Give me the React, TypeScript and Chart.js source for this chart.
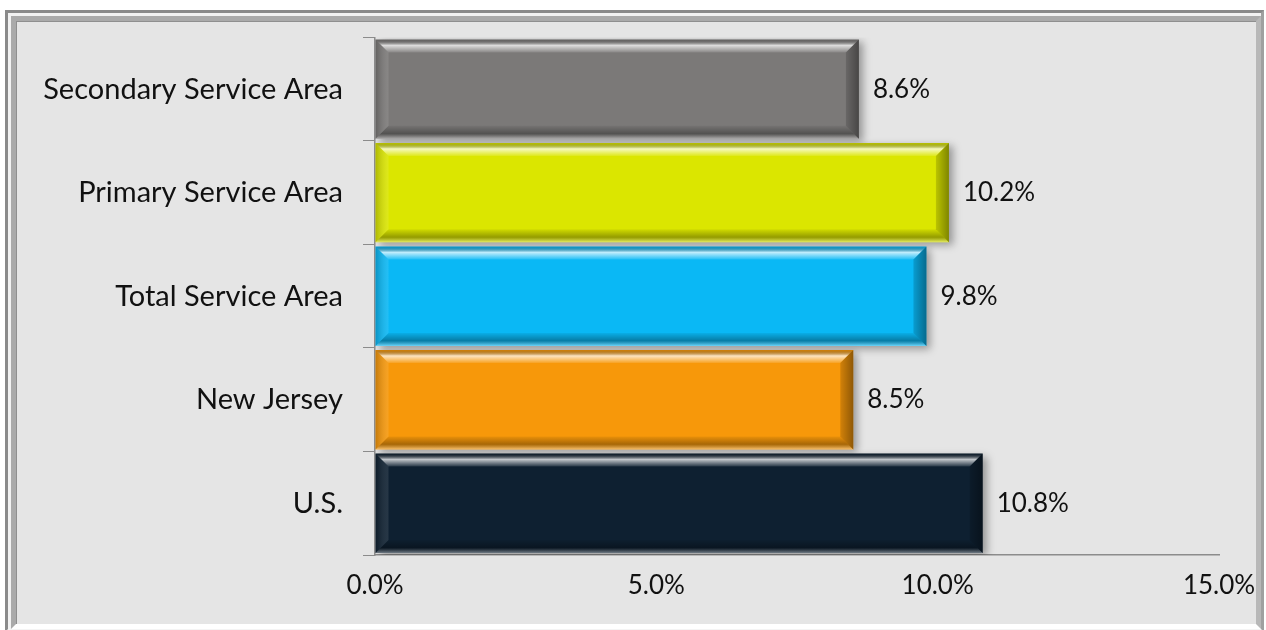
import React, { useEffect, useRef } from "react";
import { Chart, registerables } from "chart.js";

Chart.register(...registerables);

const categories = [
  "Secondary Service Area",
  "Primary Service Area",
  "Total Service Area",
  "New Jersey",
  "U.S.",
];
const values = [8.6, 10.2, 9.8, 8.5, 10.8];
const barColors = ["#7b7978", "#dbe600", "#0ab8f5", "#f7980a", "#0e2031"];
const xTicks = [0, 5, 10, 15];

const FONT_FAMILY = "Lato, 'Open Sans', sans-serif";

const bevelPlugin = {
  id: "bevelAndLabels",
  beforeDatasetsDraw(chart: any) {
    const ctx = chart.ctx;
    ctx.save();
    ctx.shadowColor = "rgba(0,0,0,0.35)";
    ctx.shadowBlur = 8;
    ctx.shadowOffsetX = 4;
    ctx.shadowOffsetY = 3;
  },
  afterDatasetsDraw(chart: any) {
    const ctx = chart.ctx;
    ctx.restore();
    const meta = chart.getDatasetMeta(0);
    meta.data.forEach((el: any, i: number) => {
      const l = el.base;
      const r = el.x;
      const t = el.y - el.height / 2;
      const b = el.y + el.height / 2;
      const bv = 13;
      ctx.save();
      // top bevel
      let g = ctx.createLinearGradient(0, t, 0, t + bv);
      g.addColorStop(0, "rgba(0,0,0,0.15)");
      g.addColorStop(0.45, "rgba(255,255,255,0.75)");
      g.addColorStop(1, "rgba(255,255,255,0.1)");
      ctx.fillStyle = g;
      ctx.beginPath();
      ctx.moveTo(l, t);
      ctx.lineTo(r, t);
      ctx.lineTo(r - bv, t + bv);
      ctx.lineTo(l + bv, t + bv);
      ctx.closePath();
      ctx.fill();
      // bottom bevel
      g = ctx.createLinearGradient(0, b - bv, 0, b);
      g.addColorStop(0, "rgba(0,0,0,0.05)");
      g.addColorStop(0.6, "rgba(0,0,0,0.32)");
      g.addColorStop(1, "rgba(255,255,255,0.4)");
      ctx.fillStyle = g;
      ctx.beginPath();
      ctx.moveTo(l, b);
      ctx.lineTo(r, b);
      ctx.lineTo(r - bv, b - bv);
      ctx.lineTo(l + bv, b - bv);
      ctx.closePath();
      ctx.fill();
      // right bevel
      g = ctx.createLinearGradient(r - bv, 0, r, 0);
      g.addColorStop(0, "rgba(0,0,0,0.15)");
      g.addColorStop(1, "rgba(0,0,0,0.42)");
      ctx.fillStyle = g;
      ctx.beginPath();
      ctx.moveTo(r, t);
      ctx.lineTo(r, b);
      ctx.lineTo(r - bv, b - bv);
      ctx.lineTo(r - bv, t + bv);
      ctx.closePath();
      ctx.fill();
      // left bevel
      g = ctx.createLinearGradient(l, 0, l + bv, 0);
      g.addColorStop(0, "rgba(0,0,0,0.2)");
      g.addColorStop(1, "rgba(255,255,255,0.1)");
      ctx.fillStyle = g;
      ctx.beginPath();
      ctx.moveTo(l, t);
      ctx.lineTo(l, b);
      ctx.lineTo(l + bv, b - bv);
      ctx.lineTo(l + bv, t + bv);
      ctx.closePath();
      ctx.fill();
      ctx.restore();

      // value label
      ctx.save();
      ctx.font = `26px ${FONT_FAMILY}`;
      ctx.fillStyle = "#111111";
      ctx.textAlign = "left";
      ctx.textBaseline = "middle";
      ctx.fillText(values[i].toFixed(1) + "%", r + 14, el.y);
      ctx.restore();
    });
  },
};

export default function App() {
  const ref = useRef<HTMLCanvasElement | null>(null);

  useEffect(() => {
    document.body.style.margin = "0";
    const canvas = ref.current!;
    const chart = new Chart(canvas, {
      type: "bar",
      data: {
        labels: categories,
        datasets: [
          {
            data: values,
            backgroundColor: barColors,
            borderWidth: 0,
            categoryPercentage: 1,
            barPercentage: 0.96,
          },
        ],
      },
      options: {
        indexAxis: "y",
        animation: false,
        responsive: false,
        maintainAspectRatio: false,
        layout: { padding: { top: 36, right: 47, bottom: 0, left: 0 } },
        plugins: {
          legend: { display: false },
          tooltip: { enabled: false },
        },
        scales: {
          x: {
            min: 0,
            max: 15,
            afterBuildTicks: (s: any) => {
              s.ticks = xTicks.map((v) => ({ value: v }));
            },
            ticks: {
              callback: (v: any) => Number(v).toFixed(1) + "%",
              font: { family: FONT_FAMILY, size: 26 },
              color: "#111111",
              padding: 15,
              maxRotation: 0,
            },
            grid: { display: true, drawOnChartArea: false, drawTicks: false, color: "#8c8c8c" },
            border: { color: "#8c8c8c", width: 1.5 },
            afterFit: (s: any) => {
              s.height = 75;
              s.paddingRight = 0;
              s.paddingLeft = 0;
            },
          },
          y: {
            ticks: {
              font: { family: FONT_FAMILY, size: 29 },
              color: "#111111",
              padding: 20,
            },
            grid: {
              drawOnChartArea: false,
              drawTicks: true,
              tickLength: 12,
              color: "#8c8c8c",
              offset: true,
            },
            border: { color: "#8c8c8c", width: 1.5 },
            afterFit: (s: any) => {
              s.width = 375;
            },
          },
        },
      },
      plugins: [bevelPlugin],
    });
    return () => chart.destroy();
  }, []);

  return (
    <div style={{ position: "fixed", left: 0, top: 0, width: 1266, height: 630, background: "#ffffff", overflow: "hidden" }}>
      <div
        style={{
          position: "absolute",
          left: 5,
          top: 10,
          width: 1259,
          height: 622,
          boxSizing: "border-box",
          borderStyle: "solid",
          borderWidth: 3,
          borderColor: "#8a8a8a #a0a0a0 #f4f4f4 #8a8a8a",
          background: "#f2f2f2",
        }}
      >
        <div
          style={{
            position: "absolute",
            left: 3,
            top: 3,
            right: 0,
            bottom: 0,
            boxSizing: "border-box",
            borderStyle: "solid",
            borderWidth: 5,
            borderColor: "#aaaaaa #b8b8b8 #ffffff #aaaaaa",
            background: "#e5e5e5",
            boxShadow: "inset 1px 1px 0 #8f8f8f",
          }}
        />
      </div>
      <canvas ref={ref} width={1266} height={630} style={{ position: "absolute", left: 0, top: 0, display: "block" }} />
    </div>
  );
}
